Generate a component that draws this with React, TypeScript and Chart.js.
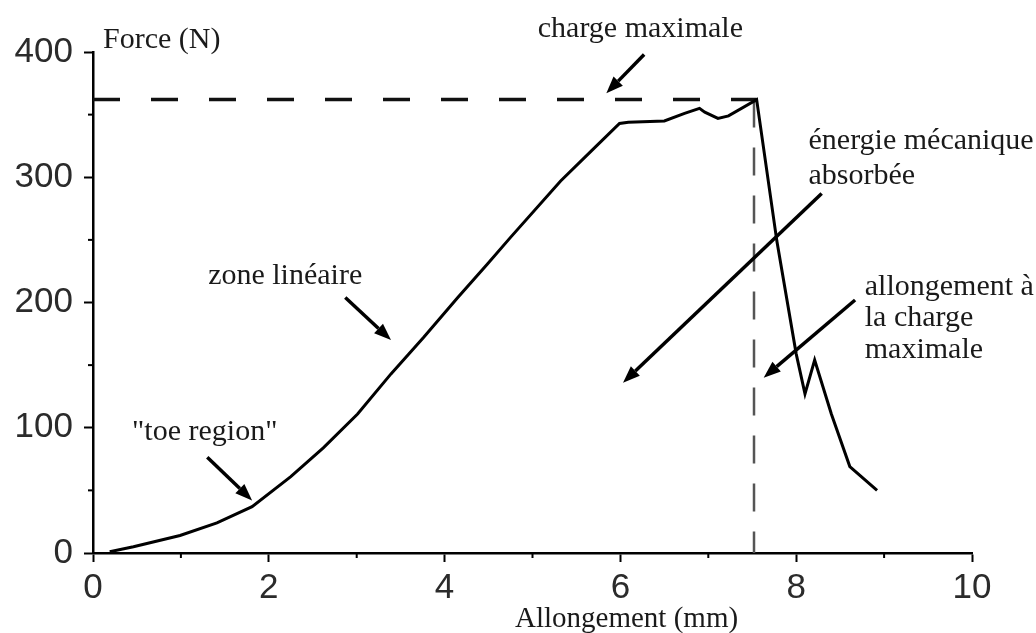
import React, { useEffect, useRef } from 'react';
import { Chart, registerables } from 'chart.js';

Chart.register(...registerables);

// ---- data ----
const elongation = [0.19, 0.46, 0.99, 1.41, 1.81, 2.25, 2.62, 3.01, 3.39, 3.76, 4.15, 4.49, 4.75, 5.32, 5.67, 5.99, 6.09, 6.5, 6.73, 6.9, 6.96, 7.11, 7.23, 7.55, 7.78, 8.0, 8.1, 8.21, 8.4, 8.61, 8.92];
const force = [1, 5, 14, 24, 37, 61, 84, 111, 143, 172, 204, 231, 252, 297, 321, 343, 344, 345, 351, 355, 352, 347, 349, 362, 249, 159, 127, 154, 111, 69, 50];
const maxLoad = 362;
const elongAtMaxLoad = 7.52;
const xTickValues = [0, 2, 4, 6, 8, 10];
const yTickValues = [0, 100, 200, 300, 400];
const xMinorTicks = [1, 3, 5, 7, 9];
const yMinorTicks = [50, 150, 250, 350];

// annotation texts (data coordinates: x in mm, y in N at baseline)
const textLabels = [
  { text: 'Force (N)', x: 0.114, y: 403, align: 'left', size: 30 },
  { text: 'charge maximale', x: 5.06, y: 412, align: 'left', size: 30 },
  { text: 'énergie mécanique', x: 8.14, y: 322.7, align: 'left', size: 30 },
  { text: 'absorbée', x: 8.14, y: 294.8, align: 'left', size: 30 },
  { text: 'allongement à', x: 8.78, y: 205.6, align: 'left', size: 30 },
  { text: 'la charge', x: 8.78, y: 180.9, align: 'left', size: 30 },
  { text: 'maximale', x: 8.78, y: 155.4, align: 'left', size: 30 },
  { text: 'zone linéaire', x: 1.31, y: 215, align: 'left', size: 30 },
  { text: '"toe region"', x: 0.445, y: 90, align: 'left', size: 30 },
  { text: 'Allongement (mm)', x: 6.07, y: -59, align: 'center', size: 29 },
];

// arrows: from tail to tip (data coordinates)
const arrows = [
  { from: [6.27, 398], to: [5.84, 367] },
  { from: [8.29, 287], to: [6.03, 136] },
  { from: [8.67, 202], to: [7.63, 140] },
  { from: [2.87, 204], to: [3.39, 170] },
  { from: [1.3, 76.5], to: [1.81, 42] },
];

function drawArrow(ctx: CanvasRenderingContext2D, x1: number, y1: number, x2: number, y2: number) {
  const ang = Math.atan2(y2 - y1, x2 - x1);
  const headLen = 17;
  const headHalf = 6.5;
  const bx = x2 - headLen * Math.cos(ang);
  const by = y2 - headLen * Math.sin(ang);
  ctx.beginPath();
  ctx.moveTo(x1, y1);
  ctx.lineTo(bx, by);
  ctx.lineWidth = 3.5;
  ctx.strokeStyle = '#000';
  ctx.stroke();
  ctx.beginPath();
  ctx.moveTo(x2, y2);
  ctx.lineTo(bx + headHalf * Math.sin(ang), by - headHalf * Math.cos(ang));
  ctx.lineTo(bx - headHalf * Math.sin(ang), by + headHalf * Math.cos(ang));
  ctx.closePath();
  ctx.fillStyle = '#000';
  ctx.fill();
}

const annotationPlugin = {
  id: 'annotationPlugin',
  afterDraw(chart: any) {
    const { ctx, chartArea } = chart;
    const xs = chart.scales.x;
    const ys = chart.scales.y;
    ctx.save();
    // minor ticks
    ctx.strokeStyle = '#000';
    ctx.lineWidth = 2;
    yMinorTicks.forEach((v) => {
      const py = ys.getPixelForValue(v);
      ctx.beginPath();
      ctx.moveTo(chartArea.left - 5, py);
      ctx.lineTo(chartArea.left, py);
      ctx.stroke();
    });
    xMinorTicks.forEach((v) => {
      const px = xs.getPixelForValue(v);
      ctx.beginPath();
      ctx.moveTo(px, chartArea.bottom);
      ctx.lineTo(px, chartArea.bottom + 5);
      ctx.stroke();
    });
    // arrows
    arrows.forEach((a) => {
      drawArrow(
        ctx,
        xs.getPixelForValue(a.from[0]),
        ys.getPixelForValue(a.from[1]),
        xs.getPixelForValue(a.to[0]),
        ys.getPixelForValue(a.to[1])
      );
    });
    // texts
    ctx.fillStyle = '#1a1a1a';
    ctx.textBaseline = 'alphabetic';
    textLabels.forEach((t) => {
      ctx.font = `${t.size}px "Liberation Serif"`;
      ctx.textAlign = t.align as CanvasTextAlign;
      ctx.fillText(t.text, xs.getPixelForValue(t.x), ys.getPixelForValue(t.y));
    });
    ctx.restore();
  },
};

export default function App() {
  const canvasRef = useRef<HTMLCanvasElement | null>(null);

  useEffect(() => {
    document.body.style.margin = '0';
    const canvas = canvasRef.current;
    if (!canvas) return;
    const curve = elongation.map((v, i) => ({ x: v, y: force[i] }));
    const chart = new Chart(canvas, {
      type: 'line',
      data: {
        datasets: [
          {
            data: curve,
            borderColor: '#000',
            borderWidth: 3,
            pointRadius: 0,
            tension: 0,
            fill: false,
          },
          {
            data: [
              { x: 0, y: maxLoad },
              { x: elongation[force.indexOf(maxLoad)], y: maxLoad },
            ],
            borderColor: '#111',
            borderWidth: 3.5,
            borderDash: [27, 31],
            pointRadius: 0,
            fill: false,
          },
          {
            data: [
              { x: elongAtMaxLoad, y: maxLoad },
              { x: elongAtMaxLoad, y: 0 },
            ],
            borderColor: '#555',
            borderWidth: 2.5,
            borderDash: [28, 20],
            pointRadius: 0,
            fill: false,
          },
        ],
      },
      options: {
        responsive: false,
        animation: false,
        devicePixelRatio: 1,
        layout: { padding: { left: 0, top: 52, right: 64, bottom: 0 } },
        plugins: {
          legend: { display: false },
          tooltip: { enabled: false },
          title: { display: false },
        },
        scales: {
          x: {
            type: 'linear',
            min: 0,
            max: 10,
            afterFit: (s: any) => {
              s.height = 80;
            },
            afterBuildTicks: (s: any) => {
              s.ticks = xTickValues.map((v) => ({ value: v }));
            },
            ticks: {
              padding: 5,
              color: '#2b2b2b',
              font: { family: '"Liberation Sans"', size: 35 },
              maxRotation: 0,
              autoSkip: false,
            },
            grid: {
              display: true,
              drawOnChartArea: false,
              drawTicks: true,
              tickLength: 9,
              tickColor: '#000',
              tickWidth: 2,
            },
            border: { display: true, color: '#000', width: 2.5 },
          },
          y: {
            type: 'linear',
            min: 0,
            max: 400,
            afterFit: (s: any) => {
              s.width = 93;
            },
            afterBuildTicks: (s: any) => {
              s.ticks = yTickValues.map((v) => ({ value: v }));
            },
            ticks: {
              padding: 11,
              color: '#2b2b2b',
              font: { family: '"Liberation Sans"', size: 35 },
              autoSkip: false,
            },
            grid: {
              display: true,
              drawOnChartArea: false,
              drawTicks: true,
              tickLength: 9,
              tickColor: '#000',
              tickWidth: 2,
            },
            border: { display: true, color: '#000', width: 2.5 },
          },
        },
      },
      plugins: [annotationPlugin],
    });
    return () => chart.destroy();
  }, []);

  return (
    <div style={{ width: 1036, height: 633, background: '#fff' }}>
      <canvas ref={canvasRef} width={1036} height={633} style={{ display: 'block' }} />
    </div>
  );
}
